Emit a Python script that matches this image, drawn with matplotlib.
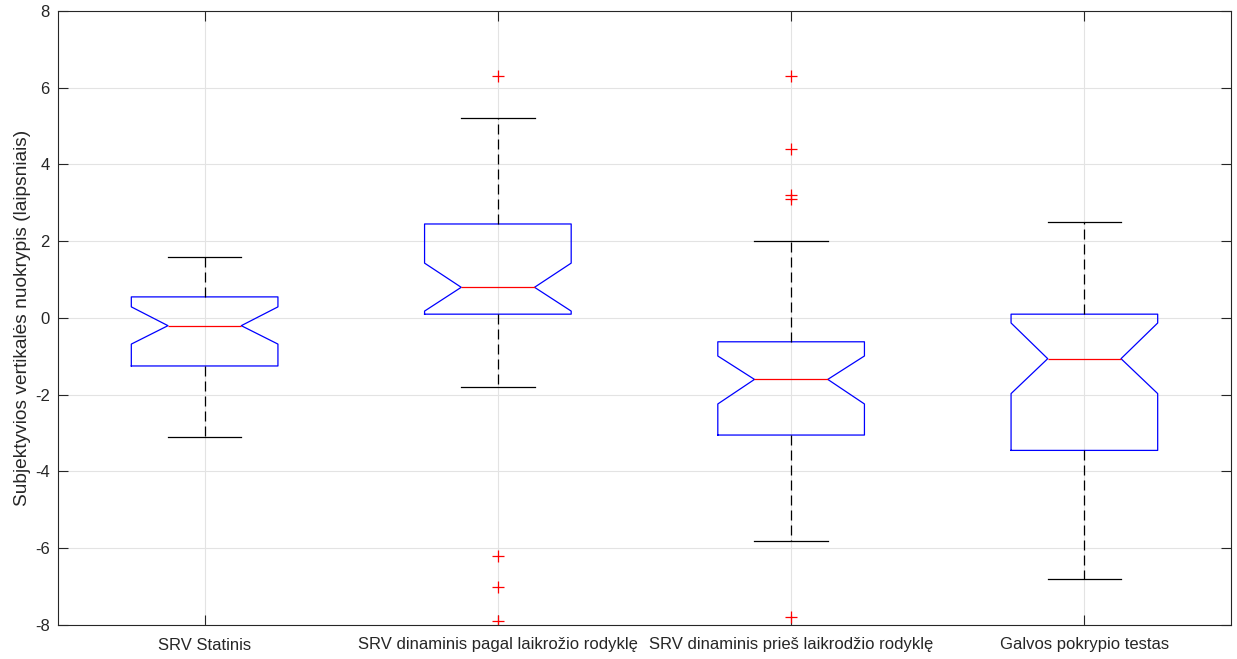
import matplotlib

matplotlib.use("Agg")

import matplotlib.pyplot as plt

plt.rcParams["font.family"] = ["Liberation Sans", "DejaVu Sans"]

# values
categories = [
    "SRV Statinis",
    "SRV dinaminis pagal laikrožio rodyklę",
    "SRV dinaminis prieš laikrodžio rodyklę",
    "Galvos pokrypio testas",
]
medians = [-0.2, 0.8, -1.6, -1.06]
q1 = [-1.25, 0.1, -3.05, -3.45]
q3 = [0.55, 2.45, -0.62, 0.1]
notch_lo = [-0.68, 0.18, -2.24, -1.97]
notch_hi = [0.29, 1.43, -0.99, -0.13]
whisker_lo = [-3.1, -1.8, -5.8, -6.8]
whisker_hi = [1.6, 5.2, 2.0, 2.5]
outliers = [
    [],
    [6.3, -6.2, -7.0, -7.9],
    [6.3, 4.4, 3.2, 3.1, -7.8],
    [],
]
y_ticks = [-8, -6, -4, -2, 0, 2, 4, 6, 8]

stats = []
for i, label in enumerate(categories):
    stats.append(
        {
            "label": label,
            "med": medians[i],
            "q1": q1[i],
            "q3": q3[i],
            "cilo": notch_lo[i],
            "cihi": notch_hi[i],
            "whislo": whisker_lo[i],
            "whishi": whisker_hi[i],
            "fliers": outliers[i],
        }
    )

fig = plt.figure(figsize=(12.37, 6.59), dpi=100)
ax = fig.add_axes([58 / 1237, 1 - 625 / 659, 1173 / 1237, 614 / 659])

ax.bxp(
    stats,
    positions=[1, 2, 3, 4],
    widths=0.5,
    shownotches=True,
    boxprops={"color": "#0000ff", "linewidth": 0.9},
    medianprops={"color": "#ff0000", "linewidth": 0.9},
    whiskerprops={"color": "black", "linewidth": 0.9, "linestyle": (0, (8, 4))},
    capprops={"color": "black", "linewidth": 0.9},
    flierprops={"marker": "+", "markeredgecolor": "#ff0000", "markersize": 8, "markeredgewidth": 0.9},
)

ax.set_xlim(0.5, 4.5)
ax.set_ylim(-8, 8)
ax.set_yticks(y_ticks)
ax.set_yticklabels([str(t) for t in y_ticks])
ax.set_ylabel("Subjektyvios vertikalės nuokrypis (laipsniais)", fontsize=13.8, color="#262626", labelpad=3)

ax.grid(True, color="#e3e3e3", linewidth=0.8)
ax.set_axisbelow(True)
ax.tick_params(
    direction="in", length=7, width=0.8, color="#262626",
    labelsize=12, labelcolor="#262626", top=True, right=True,
)
ax.tick_params(axis="x", pad=9)
ax.tick_params(axis="y", pad=6)
for spine in ax.spines.values():
    spine.set_color("#262626")
    spine.set_linewidth(0.8)

fig.savefig("out.png", dpi=100)
